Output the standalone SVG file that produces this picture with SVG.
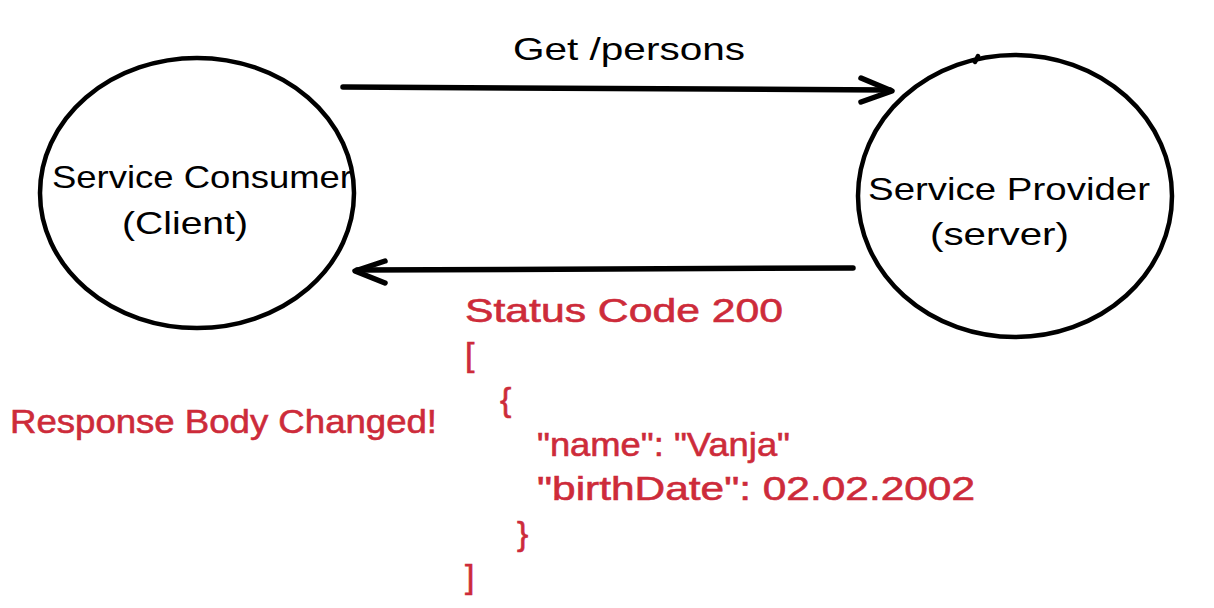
<svg xmlns="http://www.w3.org/2000/svg" width="1214" height="608" viewBox="0 0 1214 608">
<style>
.bg{fill:#ffffff}
.node{fill:none;stroke:#000;stroke-width:4.5;stroke-linecap:round}
.edge{fill:none;stroke:#000;stroke-width:5.5;stroke-linecap:round;stroke-linejoin:round}
.t{font-family:"Liberation Sans","Noto Sans",sans-serif;font-size:32px;fill:#000}
.r{font-family:"Liberation Sans","Noto Sans",sans-serif;font-size:34px;fill:#cd2b3a;stroke:#cd2b3a;stroke-width:0.6}
</style>
<rect class="bg" x="0" y="0" width="1214" height="608"/>
<g id="connectors">
  <g id="edge-get">
    <path class="edge" d="M343 87 Q600 88 890 90"/>
    <path class="edge" d="M861 78 L892 91 L861 102"/>
    <text class="t" x="513" y="60" textLength="232" lengthAdjust="spacingAndGlyphs">Get /persons</text>
  </g>
  <g id="edge-response">
    <path class="edge" d="M853 268 Q600 269 357 270"/>
    <path class="edge" d="M385 261 L355 271 L385 283"/>
  </g>
</g>
<g id="node-consumer">
  <ellipse class="node" cx="197" cy="193" rx="157" ry="135"/>
  <text class="t" x="52" y="188" textLength="300" lengthAdjust="spacingAndGlyphs">Service Consumer</text>
  <text class="t" x="122" y="234" textLength="126" lengthAdjust="spacingAndGlyphs">(Client)</text>
</g>
<g id="node-provider">
  <ellipse class="node" cx="1015" cy="196" rx="157" ry="141"/>
  <path class="node" d="M975 62 L978 56"/>
  <text class="t" x="868" y="200" textLength="282" lengthAdjust="spacingAndGlyphs">Service Provider</text>
  <text class="t" x="930" y="245" textLength="139" lengthAdjust="spacingAndGlyphs">(server)</text>
</g>
<g id="response-body">
  <text class="r" x="465" y="322" textLength="318" lengthAdjust="spacingAndGlyphs">Status Code 200</text>
  <text class="r" x="465" y="366">[</text>
  <text class="r" x="500" y="411">{</text>
  <text class="r" x="537" y="456" textLength="253" lengthAdjust="spacingAndGlyphs">"name": "Vanja"</text>
  <text class="r" x="537" y="500" textLength="438" lengthAdjust="spacingAndGlyphs">"birthDate": 02.02.2002</text>
  <text class="r" x="517" y="545">}</text>
  <text class="r" x="465" y="588">]</text>
</g>
<g id="note-changed">
  <text class="r" x="10" y="433" textLength="427" lengthAdjust="spacingAndGlyphs">Response Body Changed!</text>
</g>
</svg>
